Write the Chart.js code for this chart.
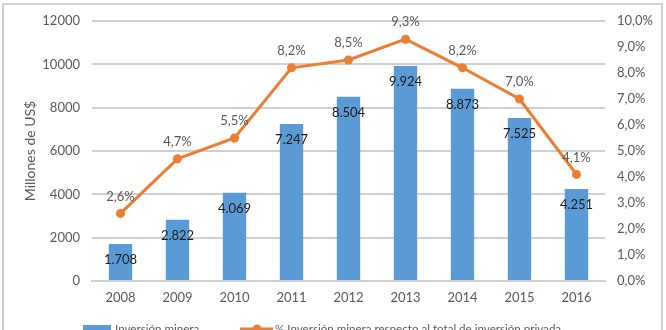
<!DOCTYPE html>
<html>
<head>
<meta charset="utf-8">
<script src="https://cdn.jsdelivr.net/npm/chart.js@4.4.1/dist/chart.umd.min.js"></script>
<style>
    html, body { margin: 0; padding: 0; background: #fff; overflow: hidden; }
    #frame {
        position: absolute; left: 2px; top: 3px; width: 661px; height: 360px;
        border: 2px solid #d0d0d0; box-sizing: border-box;
    }
    #wrap { position: absolute; left: 0; top: 0; width: 666px; height: 345px; }
</style>
</head>
<body>
<div id="frame"></div>
<div id="wrap"><canvas id="chart"></canvas></div>
<script>
// ========== DATOS ==========
const years = ['2008', '2009', '2010', '2011', '2012', '2013', '2014', '2015', '2016'];
const inversionMinera = [1708, 2822, 4069, 7247, 8504, 9924, 8873, 7525, 4251];
const porcentajePrivada = [2.6, 4.7, 5.5, 8.2, 8.5, 9.3, 8.2, 7.0, 4.1];

const BLUE = '#5b9bd5';
const ORANGE = '#ed7d31';
const GRID = '#d0d0d0';
const FONT = 'Lato';

// 1708 -> "1.708"
function fmtMiles(v) {
    return String(v).replace(/\B(?=(\d{3})+(?!\d))/g, '.');
}
// 2.6 -> "2,6%"
function fmtPct(v) {
    return v.toFixed(1).replace('.', ',') + '%';
}

/**
 * Etiquetas de datos (barras y línea)
 */
const dataLabels = {
    id: 'dataLabels',
    afterDatasetsDraw(chart) {
        const ctx = chart.ctx;
        ctx.save();
        ctx.textAlign = 'center';
        ctx.textBaseline = 'middle';
        ctx.font = '13px ' + FONT;

        chart.getDatasetMeta(0).data.forEach((el, i) => {
            ctx.fillStyle = '#1a1a1a';
            ctx.fillText(fmtMiles(inversionMinera[i]), el.x, el.y + 16);
        });
        chart.getDatasetMeta(1).data.forEach((el, i) => {
            ctx.fillStyle = '#595959';
            ctx.fillText(fmtPct(porcentajePrivada[i]), el.x, el.y - 17);
        });
        ctx.restore();
    }
};

/**
 * Leyenda inferior (estilo Excel)
 */
const bottomLegend = {
    id: 'bottomLegend',
    afterDraw(chart) {
        const ctx = chart.ctx;
        const ds = chart.data.datasets;
        ctx.save();
        ctx.font = '11.6px ' + FONT;
        ctx.textBaseline = 'alphabetic';

        // barra
        ctx.fillStyle = ds[0].backgroundColor;
        ctx.fillRect(83, 325, 28, 10);
        ctx.fillStyle = '#595959';
        ctx.fillText(ds[0].label, 115, 333);

        // línea con marcador
        ctx.strokeStyle = ds[1].borderColor;
        ctx.lineWidth = 3;
        ctx.beginPath();
        ctx.moveTo(240, 329);
        ctx.lineTo(273, 329);
        ctx.stroke();
        ctx.fillStyle = ds[1].borderColor;
        ctx.beginPath();
        ctx.arc(257, 329, 4.5, 0, Math.PI * 2);
        ctx.fill();
        ctx.fillStyle = '#595959';
        ctx.fillText(ds[1].label, 275, 333);
        ctx.restore();
    }
};

const chart = new Chart(document.getElementById('chart'), {
    data: {
        labels: years,
        datasets: [
            {
                type: 'bar',
                label: 'Inversión minera',
                data: inversionMinera,
                yAxisID: 'y',
                backgroundColor: BLUE,
                borderWidth: 0,
                categoryPercentage: 1,
                barPercentage: 0.41,
                order: 2
            },
            {
                type: 'line',
                label: '% Inversión minera respecto al total de inversión privada',
                data: porcentajePrivada,
                yAxisID: 'y1',
                borderColor: ORANGE,
                backgroundColor: ORANGE,
                borderWidth: 3,
                pointRadius: 4.5,
                pointBackgroundColor: ORANGE,
                pointBorderWidth: 0,
                tension: 0,
                order: 1
            }
        ]
    },
    options: {
        responsive: true,
        maintainAspectRatio: false,
        animation: false,
        layout: {
            padding: { left: 18, right: 0, top: 21, bottom: 34 }
        },
        scales: {
            x: {
                grid: { display: false, drawTicks: false },
                border: { color: GRID, width: 2 },
                ticks: {
                    color: '#595959',
                    font: { size: 13, family: FONT },
                    padding: 9
                },
                afterFit: s => { s.height = 30; }
            },
            y: {
                position: 'left',
                min: 0,
                max: 12000,
                ticks: {
                    stepSize: 2000,
                    color: '#595959',
                    font: { size: 13, family: FONT },
                    padding: 12,
                    callback: v => String(v)
                },
                grid: { display: true, color: GRID, lineWidth: 2, drawTicks: false },
                border: { display: false },
                title: {
                    display: true,
                    text: 'Millones de US$',
                    color: '#595959',
                    font: { size: 14, family: FONT },
                    padding: { top: 4, bottom: 0 }
                },
                afterFit: s => { s.width = 74; }
            },
            y1: {
                position: 'right',
                min: 0,
                max: 10,
                ticks: {
                    stepSize: 1,
                    color: '#595959',
                    font: { size: 13, family: FONT },
                    padding: 12,
                    callback: v => fmtPct(v)
                },
                grid: { display: false, drawTicks: false },
                border: { display: false },
                afterFit: s => { s.width = 61; }
            }
        },
        plugins: {
            legend: { display: false },
            tooltip: { enabled: false }
        }
    },
    plugins: [dataLabels, bottomLegend]
});
</script>
</body>
</html>
